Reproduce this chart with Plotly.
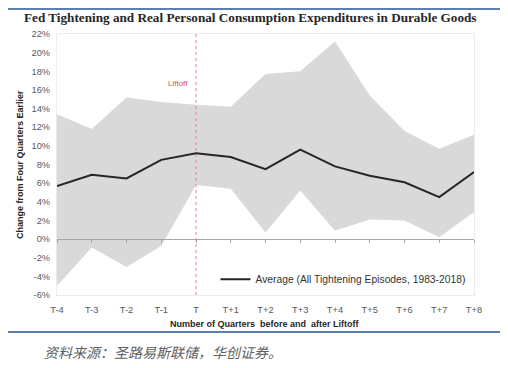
import plotly.graph_objects as go

categories = ["T-4", "T-3", "T-2", "T-1", "T", "T+1", "T+2", "T+3", "T+4", "T+5", "T+6", "T+7", "T+8"]
average = [5.7, 6.9, 6.5, 8.5, 9.2, 8.8, 7.5, 9.6, 7.8, 6.8, 6.1, 4.5, 7.2]
upper = [13.4, 11.8, 15.2, 14.7, 14.4, 14.2, 17.7, 18.0, 21.2, 15.4, 11.6, 9.7, 11.2]
lower = [-5.0, -0.9, -3.0, -0.75, 5.8, 5.4, 0.7, 5.2, 0.9, 2.1, 2.0, 0.2, 2.9]
y_ticks = list(range(-6, 23, 2))
y_tick_labels = [f"{v}%" for v in y_ticks]
liftoff_index = categories.index("T")

x = list(range(len(categories)))

fig = go.Figure()
fig.add_trace(go.Scatter(x=x, y=lower, mode="lines", line=dict(width=0, color="#d9d9d9"),
                         showlegend=False, hoverinfo="skip"))
fig.add_trace(go.Scatter(x=x, y=upper, mode="lines", line=dict(width=0, color="#d9d9d9"),
                         fill="tonexty", fillcolor="#d9d9d9", showlegend=False, hoverinfo="skip"))
fig.add_trace(go.Scatter(x=x, y=average, mode="lines", line=dict(width=2, color="#262626"),
                         name="Average (All Tightening Episodes, 1983-2018)"))

tick_font = dict(family="Liberation Sans, Arial, sans-serif", size=9.3, color="#595959")

fig.update_layout(
    width=500, height=360,
    margin=dict(l=49, r=34, t=26, b=73),
    paper_bgcolor="white", plot_bgcolor="white",
    showlegend=True,
    legend=dict(x=0.38, y=0.06, xanchor="left", yanchor="middle",
                bgcolor="rgba(0,0,0,0)", font=dict(family="Liberation Sans, Arial, sans-serif", size=10.3, color="#333333"),
                itemwidth=30),
    xaxis=dict(range=[0, len(categories) - 1], tickmode="array", tickvals=x, ticktext=categories,
               showgrid=False, zeroline=False, showline=True, linecolor="#ececec", mirror=True,
               ticks="", tickfont=tick_font, ticklabelstandoff=6),
    xaxis2=dict(matches="x", overlaying="x", anchor="free", position=6 / 28,
                tickmode="array", tickvals=x, showticklabels=False,
                showline=True, linecolor="#a6a6a6", linewidth=1, ticks="outside", ticklen=3,
                tickcolor="#a6a6a6", showgrid=False, zeroline=False),
    yaxis=dict(range=[-6, 22], tickmode="array", tickvals=y_ticks, ticktext=y_tick_labels,
               showgrid=False, zeroline=False, showline=True, linecolor="#ececec", mirror=True,
               ticks="", tickfont=tick_font, ticklabelstandoff=4),
)

# invisible trace to make xaxis2 render
fig.add_trace(go.Scatter(x=[0], y=[0], xaxis="x2", mode="markers", marker=dict(opacity=0),
                         showlegend=False, hoverinfo="skip"))

shapes = [
    dict(type="line", xref="x", yref="paper", x0=liftoff_index, x1=liftoff_index, y0=0, y1=1,
         line=dict(color="#f08080", width=1, dash="dot")),
    dict(type="line", xref="paper", yref="paper", x0=-0.1175, x1=1.0624, y0=1.0958, y1=1.0958,
         line=dict(color="#5b7fae", width=2)),
    dict(type="line", xref="paper", yref="paper", x0=-0.1175, x1=1.0624, y0=-0.1418, y1=-0.1418,
         line=dict(color="#5b7fae", width=2)),
]
fig.update_layout(shapes=shapes)

annotations = [
    dict(text="<b>Fed Tightening and Real Personal Consumption Expenditures in Durable Goods</b>",
         xref="paper", yref="paper", x=0.465, y=1.065, xanchor="center", yanchor="middle",
         showarrow=False, font=dict(family="Liberation Serif, serif", size=13.2, color="#262626")),
    dict(text="<b>Number of Quarters  before and  after Liftoff</b>",
         xref="paper", yref="paper", x=0.499, y=-0.111, xanchor="center", yanchor="middle",
         showarrow=False, font=dict(family="Liberation Sans, Arial, sans-serif", size=9, color="#262626")),
    dict(text="<b>Change from Four Quarters Earlier</b>", textangle=-90,
         xref="paper", yref="paper", x=-0.0887, y=0.498, xanchor="center", yanchor="middle",
         showarrow=False, font=dict(family="Liberation Sans, Arial, sans-serif", size=9, color="#262626")),
    dict(text="Liftoff", xref="x", yref="y", x=liftoff_index, y=16.7, xanchor="right", yanchor="middle",
         xshift=-6, showarrow=False, font=dict(family="Liberation Sans, Arial, sans-serif", size=8, color="#e05050")),
    dict(text="<i>资料来源：圣路易斯联储，华创证券。</i>", xref="paper", yref="paper", x=-0.036, y=-0.218,
         xanchor="left", yanchor="middle", showarrow=False,
         font=dict(family="Noto Sans CJK SC, sans-serif", size=14, color="#606060")),
]
fig.update_layout(annotations=annotations)

fig.write_html("out.html")
